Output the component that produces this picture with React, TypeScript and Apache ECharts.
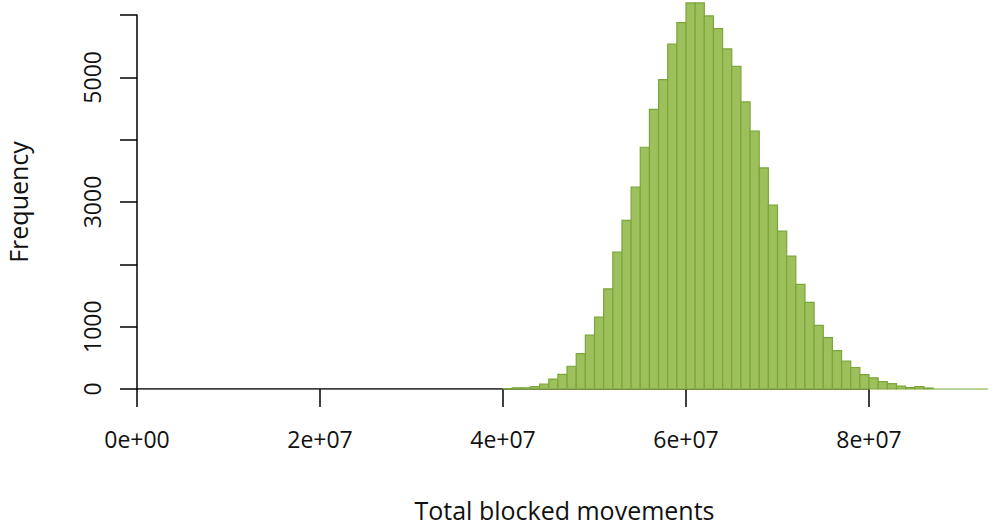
import React, { useEffect, useRef } from "react";
import * as echarts from "echarts";

// Histogram bins: start at 4.0e7, width 1e6
const binStart = 40000000;
const binWidth = 1000000;
const counts = [
  5, 20, 20, 37, 80, 160, 235, 365, 567, 864,
  1155, 1605, 2198, 2706, 3241, 3878, 4487, 4962, 5535, 5877,
  6193, 6193, 5985, 5781, 5455, 5177, 4605, 4139, 3546, 2952,
  2535, 2134, 1680, 1391, 1022, 823, 615, 449, 345, 230,
  180, 118, 86, 48, 21, 37, 16, 0, 0, 0,
  0, 0, 0,
];
const xTicks = [0, 20000000, 40000000, 60000000, 80000000];
const xTickLabels = ["0e+00", "2e+07", "4e+07", "6e+07", "8e+07"];
const yLabelValues = [0, 1000, 3000, 5000];
const xAxisLineEnds = [0, 80000000];

const FONT = "Open Sans";

export default function App() {
  const ref = useRef<HTMLDivElement>(null);
  useEffect(() => {
    if (!ref.current) return;
    document.body.style.margin = "0";
    const chart = echarts.init(ref.current, null, { renderer: "svg" });
    const bins = counts.map((c, i) => [
      binStart + i * binWidth,
      binStart + (i + 1) * binWidth,
      c,
    ]);
    chart.setOption({
      animation: false,
      grid: {
        left: 137,
        top: 15,
        width: 855,
        height: 374,
        containLabel: false,
        outerBoundsMode: "none",
      },
      xAxis: {
        type: "value",
        min: 0,
        max: 93440000,
        interval: 20000000,
        name: "Total blocked movements",
        nameLocation: "middle",
        nameGap: 111,
        nameTextStyle: { fontFamily: FONT, fontSize: 25, lineHeight: 20, color: "#111" },
        axisLine: { show: false },
        axisTick: {
          show: true,
          length: 18,
          customValues: xTicks,
          lineStyle: { color: "#000", width: 1.5 },
        },
        axisLabel: {
          customValues: xTicks,
          margin: 38,
          fontFamily: FONT,
          fontSize: 23,
          color: "#111",
          formatter: (v: number) => {
            const i = xTicks.indexOf(v);
            return i >= 0 ? xTickLabels[i] : "";
          },
        },
        splitLine: { show: false },
      },
      yAxis: {
        type: "value",
        min: 0,
        max: 6000,
        interval: 1000,
        name: "Frequency",
        nameLocation: "middle",
        nameGap: 109,
        nameTextStyle: { fontFamily: FONT, fontSize: 25, lineHeight: 20, color: "#111" },
        axisLine: { show: true, lineStyle: { color: "#000", width: 1.5 } },
        axisTick: { show: true, length: 17, lineStyle: { color: "#000", width: 1.5 } },
        axisLabel: {
          customValues: yLabelValues,
          rotate: 90,
          margin: 34,
          fontFamily: FONT,
          fontSize: 23,
          color: "#111",
          formatter: (v: number) => String(v),
        },
        splitLine: { show: false },
      },
      series: [
        {
          type: "line",
          data: xAxisLineEnds.map((x) => [x, 0]),
          symbol: "none",
          lineStyle: { color: "#000", width: 1.5 },
          z: 1,
          silent: true,
        },
        {
          type: "custom",
          z: 2,
          clip: false,
          data: bins,
          encode: { x: [0, 1], y: 2 },
          renderItem: (params: any, api: any) => {
            const p0 = api.coord([api.value(0), api.value(2)]);
            const p1 = api.coord([api.value(1), 0]);
            return {
              type: "rect",
              shape: { x: p0[0], y: p0[1], width: p1[0] - p0[0], height: p1[1] - p0[1] },
              style: { fill: "#9dbf5c", stroke: "#7ba638", lineWidth: 1.2 },
            };
          },
        },
      ],
    });
    return () => chart.dispose();
  }, []);
  return <div ref={ref} style={{ width: 992, height: 528 }} />;
}
